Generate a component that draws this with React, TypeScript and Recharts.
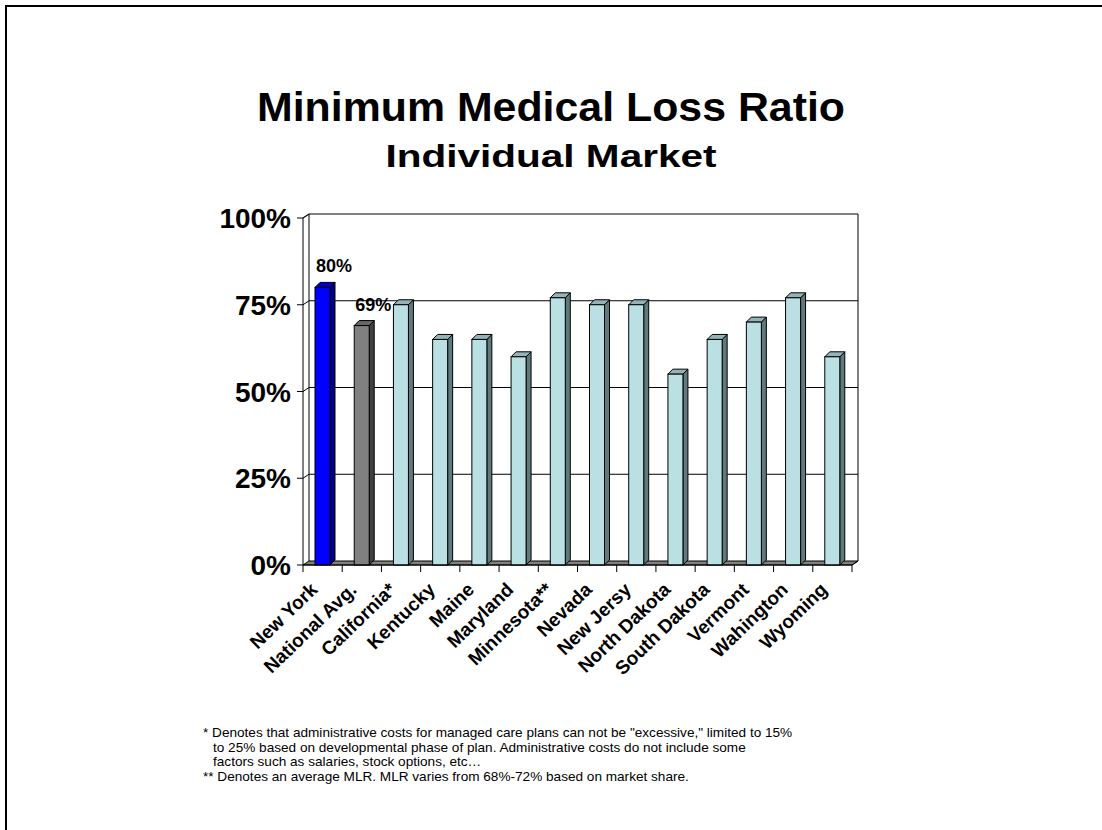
import React from 'react';
import { BarChart, Bar, XAxis, YAxis, CartesianGrid, LabelList } from 'recharts';

// ---------- data ----------
const categories = [
  'New York', 'National Avg.', 'California*', 'Kentucky', 'Maine', 'Maryland', 'Minnesota**',
  'Nevada', 'New Jersy', 'North Dakota', 'South Dakota', 'Vermont', 'Wahington', 'Wyoming',
];
const mlrValues = [80, 69, 75, 65, 65, 60, 77, 75, 75, 55, 65, 70, 77, 60];
const yTicks = [0, 25, 50, 75, 100];
const labeledCategories = ['New York', 'National Avg.'];
const titleText = 'Minimum Medical Loss Ratio';
const subtitleText = 'Individual Market';
const footnoteLines = [
  '* Denotes that administrative costs for managed care plans can not be "excessive," limited to 15%',
  'to 25% based on developmental phase of plan. Administrative costs do not include some',
  'factors such as salaries, stock options, etc…',
  '** Denotes an average MLR. MLR varies from 68%-72% based on market share.',
];
const footnoteIndent = [false, true, true, false];

// ---------- styles / layout ----------
const FONT = '"Liberation Sans", Arial, Helvetica, sans-serif';
const CHART_W = 1102;
const CHART_H = 830;
const MARGIN = { top: 218, right: 250, bottom: 165, left: 213 };
const Y_AXIS_W = 90;
const X_AXIS_H = 100;
const PLOT_LEFT = MARGIN.left + Y_AXIS_W;
const PLOT_W = CHART_W - MARGIN.right - PLOT_LEFT;
const PLOT_BOTTOM = CHART_H - MARGIN.bottom - X_AXIS_H;
const BAND = PLOT_W / categories.length;
const WALL_DX = 6;
const WALL_DY = -4;
const BAR_DX = 5;
const BAR_DY = -5;

const PALETTE: Record<string, { front: string; side: string; top: string }> = {
  primary: { front: '#0000FF', side: '#00008C', top: '#0000C8' },
  average: { front: '#808080', side: '#404040', top: '#666666' },
  state: { front: '#BBE0E3', side: '#5E7A7C', top: '#94B3B6' },
};

const data = categories.map((name, i) => ({
  name,
  value: mlrValues[i],
  kind: i === 0 ? 'primary' : i === 1 ? 'average' : 'state',
}));

// ---------- custom pieces ----------
const GridLine = (props: any) => {
  const { x1, x2, y1, horizontalPoints, index } = props;
  const pts: number[] = horizontalPoints || [];
  const top = pts.length ? Math.min(...pts) : y1;
  const bottom = pts.length ? Math.max(...pts) : y1;
  const isBottom = Math.abs(y1 - bottom) < 0.5;
  const isTop = Math.abs(y1 - top) < 0.5;
  return (
    <g key={`gl-${index}`}>
      {isBottom && (
        <g>
          <polygon
            points={`${x1},${y1} ${x2},${y1} ${x2 + WALL_DX},${y1 + WALL_DY} ${x1 + WALL_DX},${y1 + WALL_DY}`}
            fill="#808080"
            stroke="#000"
            strokeWidth={1}
          />
          <line x1={x1 + WALL_DX} y1={top + WALL_DY} x2={x1 + WALL_DX} y2={bottom + WALL_DY} stroke="#000" strokeWidth={1} />
          <line x1={x2 + WALL_DX} y1={top + WALL_DY} x2={x2 + WALL_DX} y2={bottom + WALL_DY} stroke="#000" strokeWidth={1} />
          <line x1={x2} y1={bottom} x2={x2 + WALL_DX} y2={bottom + WALL_DY} stroke="#000" strokeWidth={1} />
        </g>
      )}
      {!isBottom && (
        <polyline
          points={`${x1},${y1} ${x1 + WALL_DX},${y1 + WALL_DY} ${x2 + WALL_DX},${y1 + WALL_DY}`}
          fill="none"
          stroke="#000"
          strokeWidth={isTop ? 1.2 : 1}
        />
      )}
    </g>
  );
};

const Bar3D = (props: any) => {
  const { x, y, width, height, payload } = props;
  if (width == null || height == null) return null;
  const c = PALETTE[payload.kind];
  return (
    <g>
      <polygon
        points={`${x + width},${y} ${x + width + BAR_DX},${y + BAR_DY} ${x + width + BAR_DX},${y + height + BAR_DY} ${x + width},${y + height}`}
        fill={c.side}
        stroke="#000"
        strokeWidth={1}
        strokeLinejoin="round"
      />
      <polygon
        points={`${x},${y} ${x + BAR_DX},${y + BAR_DY} ${x + width + BAR_DX},${y + BAR_DY} ${x + width},${y}`}
        fill={c.top}
        stroke="#000"
        strokeWidth={1}
        strokeLinejoin="round"
      />
      <rect x={x} y={y} width={width} height={height} fill={c.front} stroke="#000" strokeWidth={1} />
    </g>
  );
};

const YTick = (props: any) => {
  const { x, y, payload } = props;
  return (
    <text x={x} y={y} dy={10} textAnchor="end" fontFamily={FONT} fontWeight="bold" fontSize={28} fill="#000">
      {`${payload.value}%`}
    </text>
  );
};

const XTick = (props: any) => {
  const { x, payload, index } = props;
  const half = BAND / 2;
  return (
    <g>
      <line x1={x - half} y1={PLOT_BOTTOM} x2={x - half} y2={PLOT_BOTTOM + 7} stroke="#000" strokeWidth={1} />
      {index === categories.length - 1 && (
        <line x1={x + half} y1={PLOT_BOTTOM} x2={x + half} y2={PLOT_BOTTOM + 7} stroke="#000" strokeWidth={1} />
      )}
      <text
        transform={`translate(${x - 4},${PLOT_BOTTOM + 26}) rotate(-44)`}
        textAnchor="end"
        fontFamily={FONT}
        fontWeight="bold"
        fontSize={19}
        fill="#000"
      >
        {payload.value}
      </text>
    </g>
  );
};

const ValueLabel = (props: any) => {
  const { x, y, value, index } = props;
  if (!labeledCategories.includes(categories[index])) return null;
  return (
    <text x={x + 1} y={y - 15} textAnchor="start" fontFamily={FONT} fontWeight="bold" fontSize={18} fill="#000">
      {`${value}%`}
    </text>
  );
};

export default function App() {
  return (
    <div style={{ position: 'absolute', left: 0, top: 0, width: CHART_W, height: CHART_H, background: '#fff', overflow: 'hidden' }}>
      <div
        style={{
          position: 'absolute', left: 5, top: 5, right: -10, bottom: -10,
          borderTop: '2px solid #000', borderLeft: '2px solid #000',
        }}
      />
      <svg width={CHART_W} height={CHART_H} style={{ position: 'absolute', left: 0, top: 0 }}>
        <text
          x={551}
          y={121}
          textAnchor="middle"
          fontFamily={FONT}
          fontWeight="bold"
          fontSize={41}
          textLength={588}
          lengthAdjust="spacingAndGlyphs"
          fill="#000"
        >
          {titleText}
        </text>
        <text
          x={551}
          y={167}
          textAnchor="middle"
          fontFamily={FONT}
          fontWeight="bold"
          fontSize={32}
          textLength={331}
          lengthAdjust="spacingAndGlyphs"
          fill="#000"
        >
          {subtitleText}
        </text>
        {footnoteLines.map((line, i) => (
          <text
            key={i}
            x={footnoteIndent[i] ? 213 : 203}
            y={737 + i * 14.5}
            fontFamily={FONT}
            fontSize={13.6}
            fill="#000"
          >
            {line}
          </text>
        ))}
      </svg>
      <div style={{ position: 'absolute', left: 0, top: 0 }}>
        <BarChart width={CHART_W} height={CHART_H} data={data} margin={MARGIN} barSize={15}>
          <CartesianGrid horizontal={GridLine as any} vertical={false} stroke="#000" />
          <XAxis
            dataKey="name"
            height={X_AXIS_H}
            interval={0}
            axisLine={{ stroke: '#000', strokeWidth: 1 }}
            tickLine={false}
            tick={XTick as any}
          />
          <YAxis
            width={Y_AXIS_W}
            domain={[0, 100]}
            ticks={yTicks}
            interval={0}
            axisLine={{ stroke: '#000', strokeWidth: 1 }}
            tickLine={{ stroke: '#000', strokeWidth: 1 }}
            tickSize={6}
            tickMargin={6}
            tick={YTick as any}
          />
          <Bar dataKey="value" shape={Bar3D as any} isAnimationActive={false}>
            <LabelList dataKey="value" content={ValueLabel as any} />
          </Bar>
        </BarChart>
      </div>
    </div>
  );
}
